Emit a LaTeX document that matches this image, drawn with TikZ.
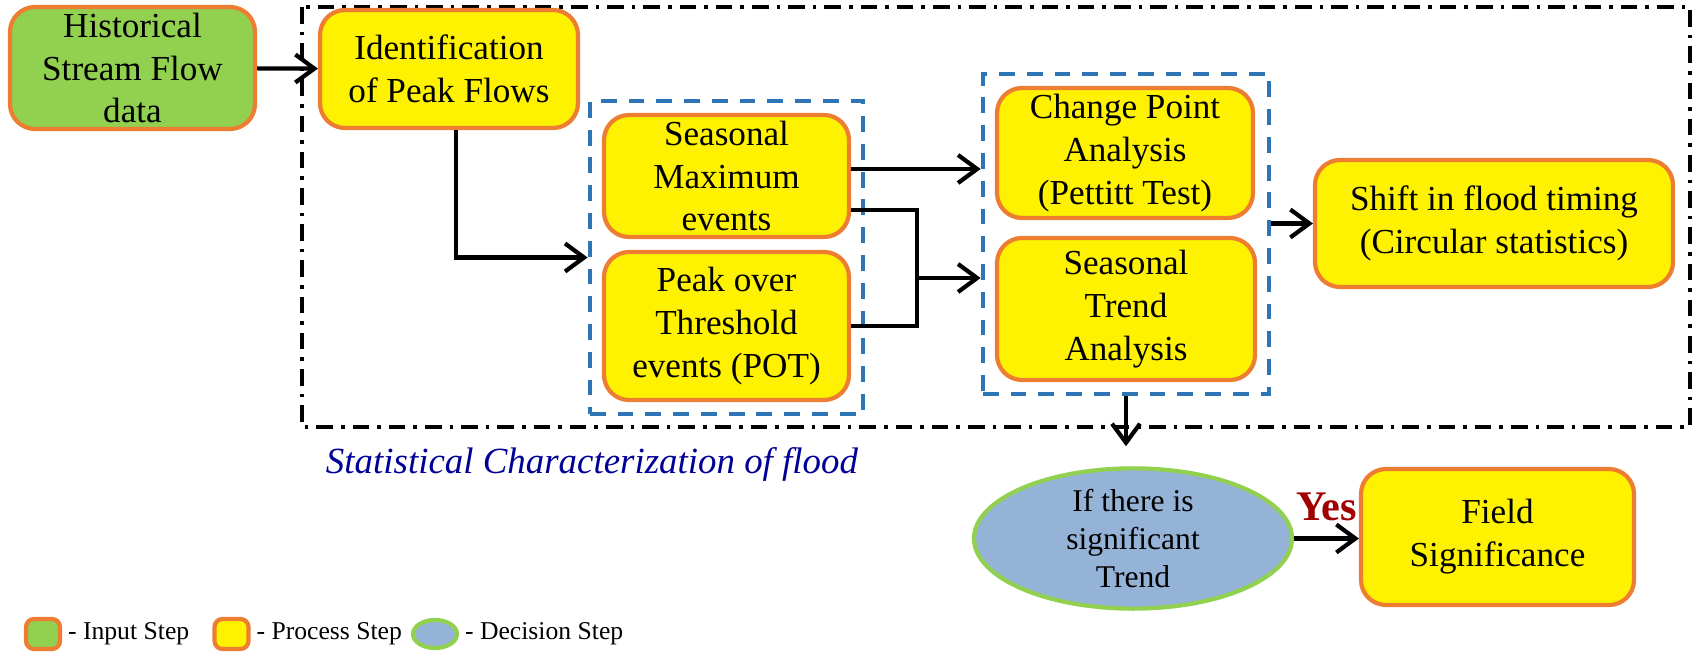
\documentclass[tikz,border=0pt]{standalone}
\usepackage{fontspec}
\setmainfont{Liberation Serif}
\usetikzlibrary{arrows.meta,fit,shapes.geometric}
\definecolor{inputgreen}{RGB}{146,208,80}
\definecolor{boxorange}{RGB}{237,125,49}
\definecolor{groupblue}{RGB}{46,117,182}
\definecolor{decblue}{RGB}{149,179,215}
\definecolor{capnavy}{RGB}{0,0,150}
\definecolor{yesred}{RGB}{160,0,0}
\tikzset{
  process/.style={draw=boxorange,line width=1.2pt,fill=yellow,rounded corners=2.5mm,align=center,inner sep=1pt,font=\fontsize{10}{12.2}\selectfont},
  inputbox/.style={process,fill=inputgreen},
  decision/.style={ellipse,draw=inputgreen,line width=1.2pt,fill=decblue,align=center,inner sep=0pt,font=\fontsize{9}{10.9}\selectfont},
  group/.style={draw=groupblue,line width=1.3pt,dash pattern=on 4.5pt off 3.4pt,inner sep=0.12cm},
  arr/.style={-{Straight Barb[length=1.9mm,width=2.8mm]},line width=1.2pt},
  link/.style={line width=1.2pt},
  legendtext/.style={anchor=west,inner sep=1.5pt,font=\fontsize{7.3}{8}\selectfont},
  legendbox/.style={draw=boxorange,line width=1.2pt,rounded corners=0.8mm,minimum width=0.34cm,minimum height=0.30cm,inner sep=0pt},
}
\begin{document}
\begin{tikzpicture}
\useasboundingbox (0,0) rectangle (16.92,-6.53);
% outer frame
\draw[line width=1.1pt,dash pattern=on 4.7pt off 2.3pt on 1pt off 2.3pt] (3.02,-0.07) rectangle (16.90,-4.27);
\node[inputbox,minimum width=2.45cm,minimum height=1.22cm] (hist) at (1.325,-0.68) {Historical\\Stream Flow\\data};
\node[process,minimum width=2.58cm,minimum height=1.18cm] (ident) at (4.49,-0.69) {Identification\\of Peak Flows};
\node[process,minimum width=2.45cm,minimum height=1.22cm] (sm) at (7.265,-1.76) {Seasonal\\Maximum\\events};
\node[process,minimum width=2.45cm,minimum height=1.48cm] (pot) at (7.265,-3.26) {Peak over\\Threshold\\events (POT)};
\node[process,minimum width=2.56cm,minimum height=1.30cm] (cp) at (11.25,-1.53) {Change Point\\Analysis\\(Pettitt Test)};
\node[process,minimum width=2.58cm,minimum height=1.42cm] (st) at (11.26,-3.09) {Seasonal\\Trend\\Analysis};
\node[process,minimum width=3.58cm,minimum height=1.27cm] (shift) at (14.94,-2.235) {Shift in flood timing\\(Circular statistics)};
\node[decision,minimum width=3.18cm,minimum height=1.35cm] (dec) at (11.33,-5.385) {If there is\\significant\\Trend};
\node[process,minimum width=2.73cm,minimum height=1.36cm] (field) at (14.975,-5.37) {Field\\Significance};
\node[group,fit=(sm)(pot)] (grpA) {};
\node[group,fit=(cp)(st)] (grpB) {};
\node[font=\itshape\fontsize{10.5}{12}\selectfont,text=capnavy] (cap) at (5.92,-4.64) {Statistical Characterization of flood};
% connectors
\draw[arr] (hist) -- (ident);
\draw[arr] ([xshift=0.7mm]ident.south) |- (grpA.west);
\draw[arr] ([yshift=0.7mm]sm.east) -- ([yshift=0.7mm]sm.east -| grpB.west);
\coordinate (jn) at (9.17,-2.78);
\draw[link] ([yshift=-3.4mm]sm.east) -| (jn) |- (pot.east);
\draw[arr] (jn) -- (jn -| grpB.west);
\draw[arr] (grpB.east |- shift.west) -- (shift.west);
\draw[arr,shorten >=2mm] (grpB.south) -- (grpB.south |- dec.north);
\draw[arr] (dec.east) -- node[above=0.4mm,text=yesred,font=\bfseries\fontsize{12}{14}\selectfont] {Yes} (dec.east -| field.west);
% legend
\node[legendbox,fill=inputgreen] (lin) at (0.43,-6.34) {};
\node[legendtext] (tin) at (lin.east) {- Input Step};
\node[legendbox,fill=yellow] (lpr) at (2.315,-6.34) {};
\node[legendtext] (tpr) at (lpr.east) {- Process Step};
\node[ellipse,draw=inputgreen,line width=1.2pt,fill=decblue,minimum width=0.44cm,minimum height=0.28cm,inner sep=0pt] (lde) at (4.35,-6.34) {};
\node[legendtext] (tde) at (lde.east) {- Decision Step};
\end{tikzpicture}
\end{document}
